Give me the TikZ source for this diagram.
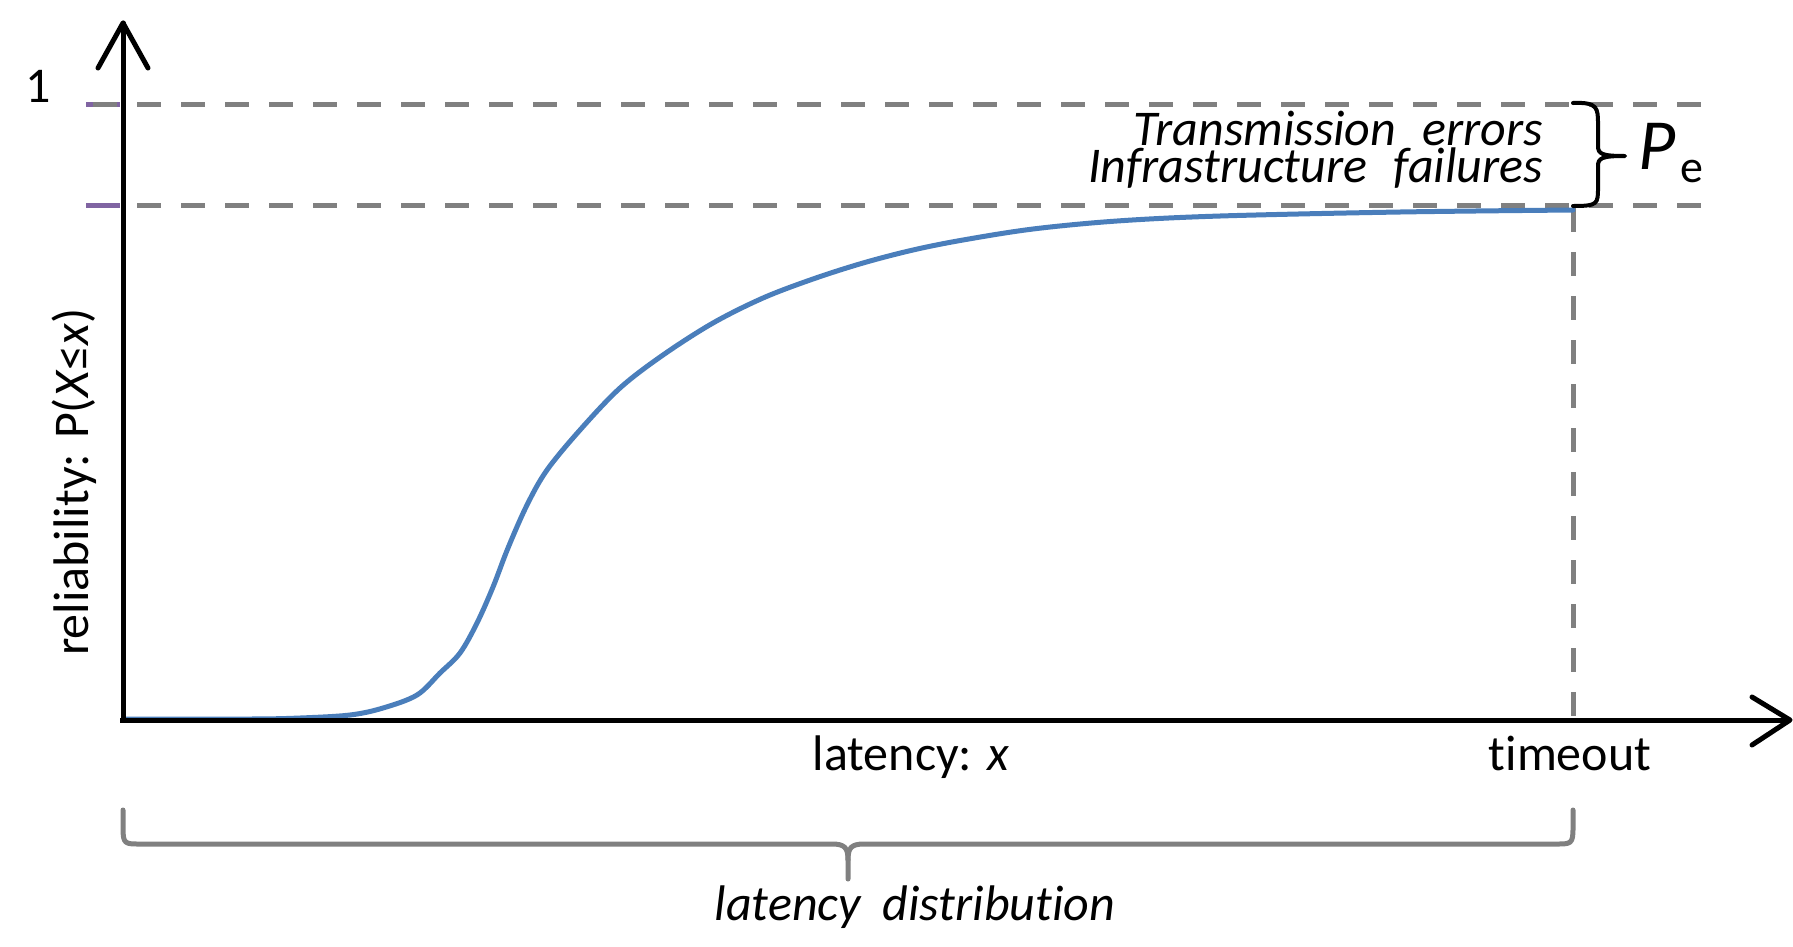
\documentclass[tikz,border=0pt]{standalone}
\usepackage{fontspec}
\setmainfont{Carlito}[Ligatures={NoCommon}]
\definecolor{curveblue}{HTML}{4A7EBB}
\definecolor{dashgray}{HTML}{808080}
\definecolor{tickpurple}{HTML}{8064A2}
\tikzset{
  axisline/.style={line width=5pt, black, line cap=round, line join=round},
  guide/.style={line width=5pt, dashgray, dash pattern=on 24pt off 20pt},
  tickmark/.style={line width=5pt, tickpurple},
  curveline/.style={line width=5pt, curveblue, line cap=round, line join=round},
  bracelineblack/.style={line width=4pt, black, line cap=round, line join=round},
  bracelinegray/.style={line width=5pt, dashgray, line cap=round, line join=round},
  lbl/.style={inner sep=0pt, font=\fontsize{50}{60}\selectfont},
  ilbl/.style={inner sep=0pt, font=\fontsize{50}{60}\selectfont\itshape},
}
\begin{document}
\begin{tikzpicture}[x=1pt,y=-1pt]
\useasboundingbox (0,0) rectangle (1793,946);
% key coordinates
\coordinate (O) at (123,720);
\coordinate (ytip) at (123,23);
\coordinate (xtip) at (1790,720);
\coordinate (oneL) at (86,104);
\coordinate (oneS) at (93,104);
\coordinate (oneR) at (1703,104);
\coordinate (peL) at (86,205);
\coordinate (peS) at (93,205);
\coordinate (peR) at (1703,205);
\coordinate (tyaxis) at (120,104);
\coordinate (pyaxis) at (120,205);
\coordinate (toTop) at (1573,208);
\coordinate (toBot) at (1573,720);

% guide lines
\draw[tickmark] (oneL) -- (tyaxis);
\draw[guide] (oneS) -- (oneR);
\draw[guide] (peS) -- (peR);
\draw[tickmark] (peL) -- (pyaxis);
\draw[guide] (toTop) -- (toBot);

% curve
\draw[curveline] plot[smooth, tension=0.55] coordinates {
 (123,719) (250,719) (300,718) (350,715) (383,708) (417,695) (440,673)
 (460,653) (477,623) (493,587) (508,548) (527,505) (547,470) (580,430)
 (620,388) (663,355) (713,323) (763,298) (813,279) (863,263) (913,250)
 (963,240) (1033,229) (1117,221) (1220,216) (1400,212) (1573,210)};

% axes
\draw[axisline] (O) -- (ytip);
\draw[axisline] (ytip) ++(-25,45) -- (ytip) -- ++(25,45);
\draw[axisline, line cap=butt] (120,720) -- (xtip);
\draw[axisline] (xtip) ++(-38,-23) -- (xtip) -- ++(-38,25);

% labels
\node[lbl, anchor=base] (one) at (38,102) {1};
\node[lbl, anchor=base, rotate=90] (ylab) at (88,482) {reliability: P(\textit{X}≤\textit{x})};
\node[lbl, anchor=base] (xlab) at (911,770) {latency: \textit{x}};
\node[lbl, anchor=base] (tout) at (1570,770) {timeout};
\node[ilbl, anchor=base east] (trans) at (1543,145) {Transmission\hspace{26pt}errors};
\node[ilbl, anchor=base east] (infra) at (1543,182) {Infrastructure\hspace{26pt}failures};
\node[inner sep=0pt, anchor=base west, font=\fontsize{72}{80}\selectfont\itshape] (P) at (1638,169) {P};
\node[inner sep=0pt, anchor=base west, font=\fontsize{46}{50}\selectfont] (e) at (1680,182) {e};
\node[ilbl, anchor=base] (ldist) at (915,920) {latency\hspace{22pt}distribution};

% right brace (P_e)
\draw[bracelineblack] (1573,103) .. controls (1598,102) and (1598,108) .. (1598,125)
  -- (1598,146) .. controls (1598,154) and (1602,156) .. (1625,156)
  .. controls (1602,156) and (1598,158) .. (1598,166)
  -- (1598,187) .. controls (1598,204) and (1598,206) .. (1573,206);

% bottom brace
\draw[bracelinegray] (123,810) -- (123,828) .. controls (123,844) and (125,844) .. (140,844)
  -- (832,844) .. controls (845,844) and (848,848) .. (848,860) -- (848,879);
\draw[bracelinegray] (848,860) .. controls (848,848) and (851,844) .. (864,844)
  -- (1556,844) .. controls (1571,844) and (1573,844) .. (1573,828) -- (1573,810);
\end{tikzpicture}
\end{document}
